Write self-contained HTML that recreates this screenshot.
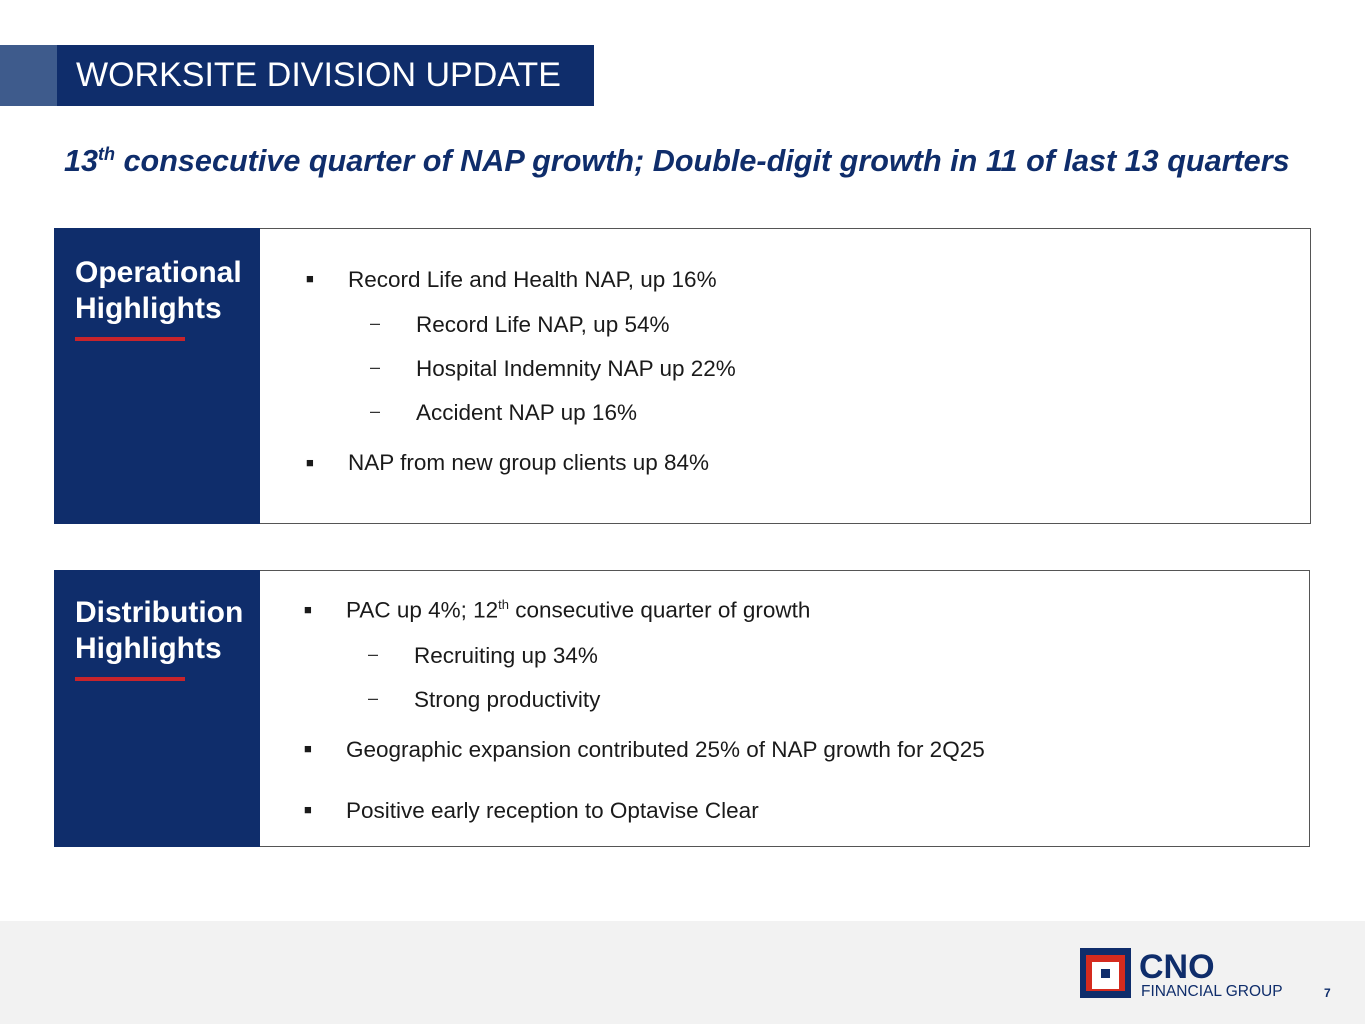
<!DOCTYPE html>
<html><head><meta charset="utf-8"><style>
*{margin:0;padding:0;box-sizing:border-box}
body{width:1365px;height:1024px;background:#fff;position:relative;font-family:"Liberation Sans",Arial,sans-serif;overflow:hidden}
.abs{position:absolute}
.t{position:absolute;font-size:22.5px;color:#1a1a1a;white-space:nowrap}
.b{position:absolute;font-size:13px;color:#1a1a1a}
.d{position:absolute;font-size:18px;color:#333}
</style></head><body>
<div class="abs" style="left:0;top:45px;width:57px;height:61px;background:#3e5b8c"></div>
<div class="abs" style="left:57px;top:45px;width:537px;height:61px;background:#0f2d6b;color:#fff;font-size:34px;line-height:61px;padding-left:19px;white-space:nowrap">WORKSITE DIVISION UPDATE</div>
<div class="abs" style="left:64px;top:144px;font-size:30.6px;font-weight:bold;font-style:italic;color:#0f2d6b;white-space:nowrap">13<sup style="font-size:18px">th</sup> consecutive quarter of NAP growth; Double-digit growth in 11 of last 13 quarters</div>

<div class="abs" style="left:54px;top:228px;width:1257px;height:296px;border:1px solid #555"></div>
<div class="abs" style="left:54px;top:228px;width:206px;height:296px;background:#0f2d6b;color:#fff;font-size:30px;font-weight:bold;padding:27px 0 0 21px;line-height:36px;white-space:nowrap">Operational<br>Highlights<div style="width:110px;height:4px;background:#c8242b;margin-top:10px"></div></div>
<div class="b" style="left:306px;top:271px">■</div><div class="t" style="left:348px;top:267px">Record Life and Health NAP, up 16%</div>
<div class="d" style="left:370px;top:313px">–</div><div class="t" style="left:416px;top:312px">Record Life NAP, up 54%</div>
<div class="d" style="left:370px;top:357px">–</div><div class="t" style="left:416px;top:356px">Hospital Indemnity NAP up 22%</div>
<div class="d" style="left:370px;top:401px">–</div><div class="t" style="left:416px;top:400px">Accident NAP up 16%</div>
<div class="b" style="left:306px;top:455px">■</div><div class="t" style="left:348px;top:450px">NAP from new group clients up 84%</div>

<div class="abs" style="left:54px;top:570px;width:1256px;height:277px;border:1px solid #555"></div>
<div class="abs" style="left:54px;top:570px;width:206px;height:277px;background:#0f2d6b;color:#fff;font-size:30px;font-weight:bold;padding:25px 0 0 21px;line-height:36px;white-space:nowrap">Distribution<br>Highlights<div style="width:110px;height:4px;background:#c8242b;margin-top:10px"></div></div>
<div class="b" style="left:304px;top:602px">■</div><div class="t" style="left:346px;top:597px">PAC up 4%; 12<sup style="font-size:13px">th</sup> consecutive quarter of growth</div>
<div class="d" style="left:368px;top:644px">–</div><div class="t" style="left:414px;top:643px">Recruiting up 34%</div>
<div class="d" style="left:368px;top:688px">–</div><div class="t" style="left:414px;top:687px">Strong productivity</div>
<div class="b" style="left:304px;top:741px">■</div><div class="t" style="left:346px;top:737px">Geographic expansion contributed 25% of NAP growth for 2Q25</div>
<div class="b" style="left:304px;top:802px">■</div><div class="t" style="left:346px;top:798px">Positive early reception to Optavise Clear</div>

<div class="abs" style="left:0;top:921px;width:1365px;height:103px;background:#f2f2f2"></div>
<div class="abs" style="left:1080px;top:948px;width:51px;height:50px;background:#0f2d6b">
 <div class="abs" style="left:6px;top:7px;width:39px;height:36px;background:#d52b1e"></div>
 <div class="abs" style="left:12px;top:14px;width:27px;height:27px;background:#fff"></div>
 <div class="abs" style="left:21px;top:21px;width:9px;height:9px;background:#0f2d6b"></div>
</div>
<div class="abs" style="left:1139px;top:949px;font-size:34px;font-weight:bold;color:#0f2d6b;line-height:36px">CNO</div>
<div class="abs" style="left:1141px;top:983px;font-size:15.5px;color:#0f2d6b;white-space:nowrap">FINANCIAL GROUP</div>
<div class="abs" style="left:1324px;top:986px;font-size:12px;font-weight:bold;color:#0f2d6b">7</div>
</body></html>
